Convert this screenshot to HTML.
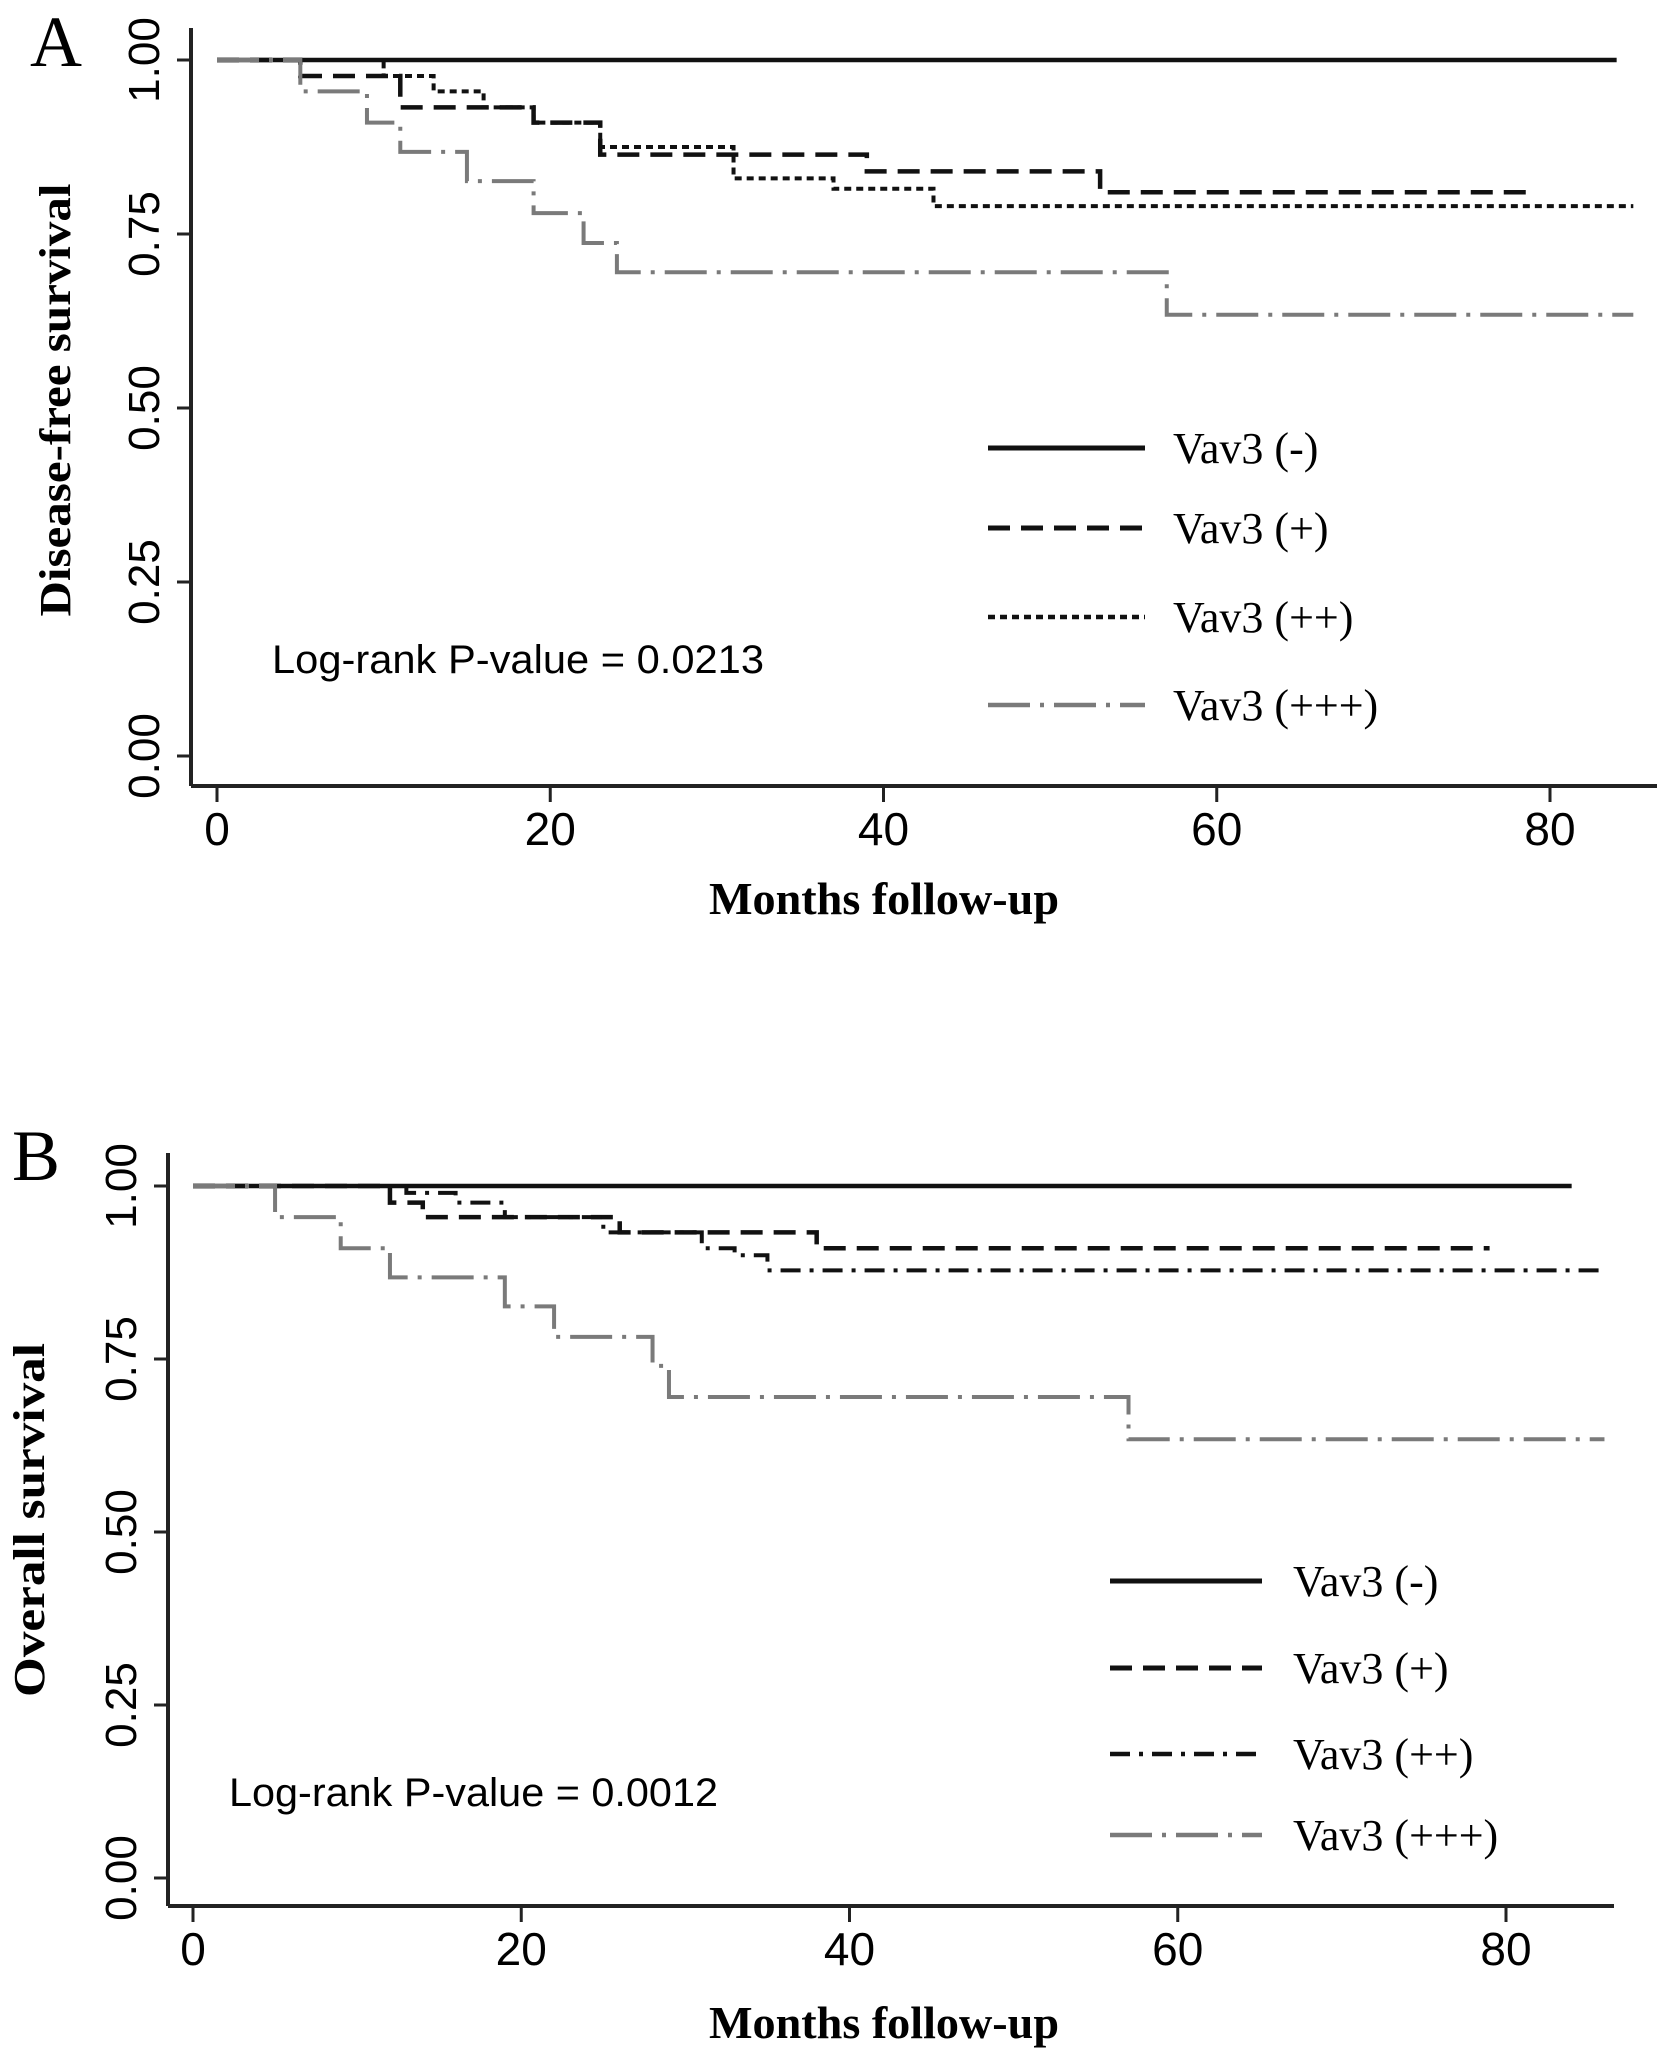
<!DOCTYPE html>
<html><head><meta charset="utf-8"><style>
html,body{margin:0;padding:0;background:#fff;}
svg{display:block;}
</style></head><body>
<svg id="fig" width="1677" height="2061" viewBox="0 0 1677 2061" xmlns="http://www.w3.org/2000/svg">
<text x="30" y="66" font-family="Liberation Serif, serif" font-size="72">A</text>
<text x="12" y="1180" font-family="Liberation Serif, serif" font-size="72">B</text>
<g id="panelA"></g>
<g id="panelB"></g>
</svg>
<script>
const xTicks = [0, 20, 40, 60, 80];
const yTicks = [0, 0.25, 0.5, 0.75, 1];
const yTickLabels = ["0.00", "0.25", "0.50", "0.75", "1.00"];
const legendLabels = ["Vav3 (-)", "Vav3 (+)", "Vav3 (++)", "Vav3 (+++)"];

// Panel A – disease-free survival
const aNegT = [0]; const aNegS = [1]; const aNegEnd = 84;
const aPlusT = [0, 5, 11, 19, 23, 39, 53]; const aPlusS = [1, 0.977, 0.932, 0.91, 0.864, 0.84, 0.81]; const aPlusEnd = 79;
const aPP_T = [0, 10, 13, 16, 19, 23, 31, 37, 43]; const aPP_S = [1, 0.977, 0.955, 0.932, 0.91, 0.875, 0.83, 0.815, 0.79]; const aPPEnd = 85;
const aPPP_T = [0, 5, 9, 11, 15, 19, 22, 24, 57]; const aPPP_S = [1, 0.955, 0.91, 0.868, 0.826, 0.78, 0.737, 0.695, 0.634]; const aPPPEnd = 85;

// Panel B – overall survival
const bNegT = [0]; const bNegS = [1]; const bNegEnd = 84;
const bPlusT = [0, 12, 14, 26, 38]; const bPlusS = [1, 0.976, 0.955, 0.933, 0.91]; const bPlusEnd = 79;
const bPP_T = [0, 13, 16, 19, 25, 31, 33, 35]; const bPP_S = [1, 0.99, 0.976, 0.955, 0.933, 0.91, 0.9, 0.878]; const bPPEnd = 86;
const bPPP_T = [0, 5, 9, 12, 19, 22, 28, 29, 57]; const bPPP_S = [1, 0.955, 0.91, 0.868, 0.826, 0.782, 0.74, 0.695, 0.634]; const bPPPEnd = 86;

const NS = "http://www.w3.org/2000/svg";
const styles = [
  {color:"#111", dash:"", w:4.5},
  {color:"#111", dash:"22 11", w:4.5},
  {color:"#111", dash:"7 5", w:4},
  {color:"#7a7a7a", dash:"42 10 4 10", w:4}
];
const stylesB = [
  {color:"#111", dash:"", w:4.5},
  {color:"#111", dash:"22 11", w:4.5},
  {color:"#111", dash:"20 9 4 9", w:4},
  {color:"#7a7a7a", dash:"42 10 4 10", w:4}
];
function mk(tag, attrs, parent){
  const e = document.createElementNS(NS, tag);
  for (const k in attrs) e.setAttribute(k, attrs[k]);
  parent.appendChild(e); return e;
}
function drawPanel(g, c){
  const sx = v => c.x0 + (c.x80 - c.x0) * v / 80;
  const sy = v => c.y0 + (c.y1 - c.y0) * v;
  const yAxis = mk("line", {x1:c.left, y1:c.top, x2:c.left, y2:c.axisY, stroke:"#222", "stroke-width":4}, g);
  
  
  const xAxis = mk("line", {x1:c.left, y1:c.axisY, x2:c.right, y2:c.axisY, stroke:"#222", "stroke-width":4}, g);
  
  
  yTicks.forEach((v, i) => {
    const y = sy(v);
    const t = mk("line", {x1:c.left - 14, y1:y, x2:c.left, y2:y, stroke:"#222", "stroke-width":3}, g);
    
    
    const lbl = mk("text", {x:0, y:0, transform:`translate(${c.left - 32},${y}) rotate(-90)`, "text-anchor":"middle",
      "font-family":"Liberation Sans, sans-serif", "font-size":44}, g);
    lbl.textContent = yTickLabels[i];
    
    
  });
  xTicks.forEach(v => {
    const x = sx(v);
    const t = mk("line", {x1:x, y1:c.axisY, x2:x, y2:c.axisY + 16, stroke:"#222", "stroke-width":3}, g);
    
    
    const lbl = mk("text", {x:x, y:c.axisY + 72, "text-anchor":"middle", "font-family":"Liberation Sans, sans-serif", "font-size":46, transform:`translate(0,-13)`}, g);
    lbl.textContent = String(v);
    
    
  });
  c.series.forEach((s, i) => {
    let d = `M${sx(s.t[0])},${sy(s.s[0])}`;
    for (let k = 1; k < s.t.length; k++){
      d += ` H${sx(s.t[k])} V${sy(s.s[k])}`;
    }
    d += ` H${sx(s.end)}`;
    const st = c.styles[i];
    const p = mk("path", {d:d, fill:"none", stroke:st.color, "stroke-width":st.w, "stroke-dasharray":st.dash}, g);
    
    
  });
  legendLabels.forEach((lab, i) => {
    const y = c.legRows[i]; const st = c.styles[i];
    const l = mk("line", {x1:c.legX1, y1:y, x2:c.legX2, y2:y, stroke:st.color, "stroke-width":st.w + 0.5, "stroke-dasharray":st.dash}, g);
    
    
    const t = mk("text", {x:c.legTX, y:y + 15, "font-family":"Liberation Serif, serif", "font-size":44}, g);
    t.textContent = lab;
    
    
  });
  const lr = mk("text", {x:c.lrX, y:c.lrY + 14, "font-family":"Liberation Sans, sans-serif", "font-size":40, textLength:c.lrW, lengthAdjust:"spacingAndGlyphs"}, g);
  lr.textContent = c.lrText;
  
  
  const xt = mk("text", {x:884, y:c.xTitleY + 15, "text-anchor":"middle", "font-family":"Liberation Serif, serif", "font-weight":"bold", "font-size":46, textLength:350, lengthAdjust:"spacingAndGlyphs"}, g);
  xt.textContent = "Months follow-up";
  
  
  const yt = mk("text", {x:0, y:0, transform:`translate(${c.yTitleX + 15},${c.yTitleY}) rotate(-90)`, "text-anchor":"middle", "font-family":"Liberation Serif, serif", "font-weight":"bold", "font-size":44, textLength:c.yTitleW, lengthAdjust:"spacingAndGlyphs"}, g);
  yt.textContent = c.yTitle;
  
  
}
drawPanel(document.getElementById("panelA"), {
  left:191, top:28, right:1657, axisY:786, x0:217, x80:1550, y1:60, y0:756,
  styles:styles,
  series:[{t:aNegT,s:aNegS,end:aNegEnd},{t:aPlusT,s:aPlusS,end:aPlusEnd},{t:aPP_T,s:aPP_S,end:aPPEnd},{t:aPPP_T,s:aPPP_S,end:aPPPEnd}],
  legRows:[448,528,617,705], legX1:988, legX2:1145, legTX:1173,
  lrX:272, lrY:659, lrW:492, lrText:"Log-rank P-value = 0.0213",
  xTitleY:899, yTitleX:55, yTitleY:400, yTitleW:433, yTitle:"Disease-free survival"
});
drawPanel(document.getElementById("panelB"), {
  left:168, top:1153, right:1614, axisY:1906, x0:193, x80:1506, y1:1186, y0:1878,
  styles:stylesB,
  series:[{t:bNegT,s:bNegS,end:bNegEnd},{t:bPlusT,s:bPlusS,end:bPlusEnd},{t:bPP_T,s:bPP_S,end:bPPEnd},{t:bPPP_T,s:bPPP_S,end:bPPPEnd}],
  legRows:[1581,1668,1754,1835], legX1:1110, legX2:1262, legTX:1293,
  lrX:229, lrY:1792, lrW:489, lrText:"Log-rank P-value = 0.0012",
  xTitleY:2023, yTitleX:29, yTitleY:1520, yTitleW:354, yTitle:"Overall survival"
});
</script>
</body></html>
